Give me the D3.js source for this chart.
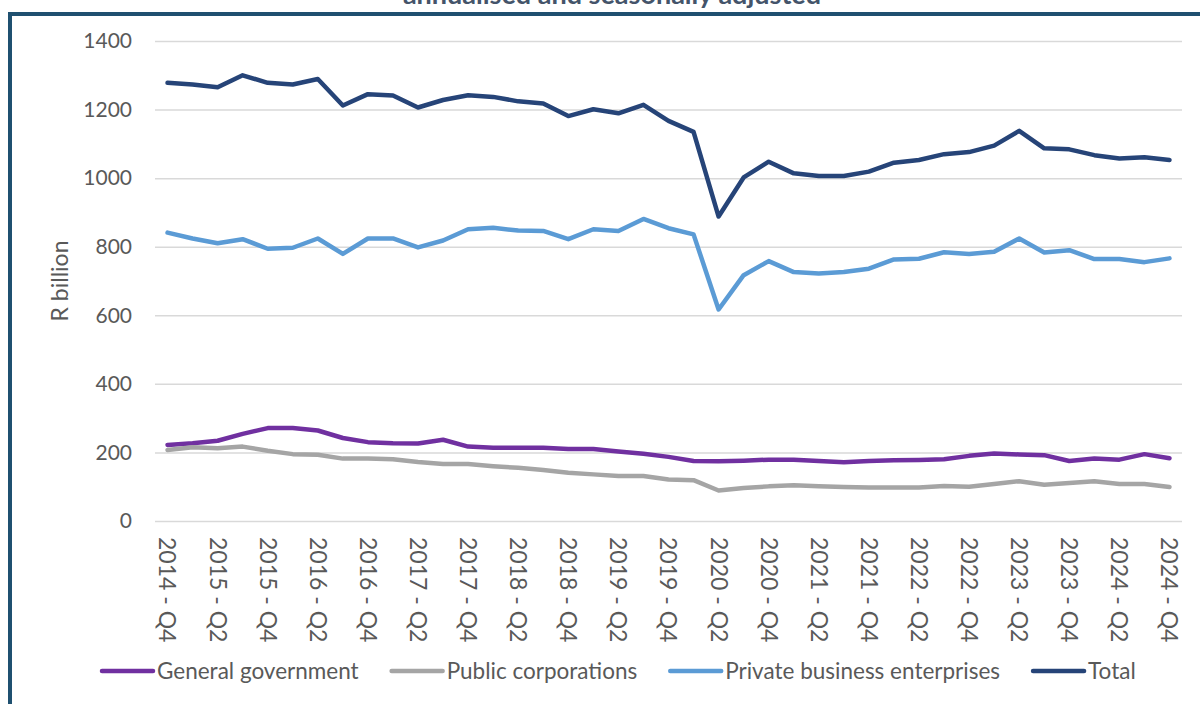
<!DOCTYPE html>
<html>
<head>
<meta charset="utf-8">
<script src="https://cdn.jsdelivr.net/npm/d3@7"></script>
<style>
  body { margin: 0; background: #fff; }
  svg { display: block; font-family: Lato, "Open Sans", sans-serif; }
</style>
</head>
<body>
<svg id="chart" width="1200" height="704"></svg>
<script>
'use strict';
// quarters on the category axis
const quarters = [
  "2014 - Q4", "2015 - Q1", "2015 - Q2", "2015 - Q3", "2015 - Q4",
  "2016 - Q1", "2016 - Q2", "2016 - Q3", "2016 - Q4",
  "2017 - Q1", "2017 - Q2", "2017 - Q3", "2017 - Q4",
  "2018 - Q1", "2018 - Q2", "2018 - Q3", "2018 - Q4",
  "2019 - Q1", "2019 - Q2", "2019 - Q3", "2019 - Q4",
  "2020 - Q1", "2020 - Q2", "2020 - Q3", "2020 - Q4",
  "2021 - Q1", "2021 - Q2", "2021 - Q3", "2021 - Q4",
  "2022 - Q1", "2022 - Q2", "2022 - Q3", "2022 - Q4",
  "2023 - Q1", "2023 - Q2", "2023 - Q3", "2023 - Q4",
  "2024 - Q1", "2024 - Q2", "2024 - Q3", "2024 - Q4"
];
// every second quarter gets a label
const tickLabels = [
  "2014 - Q4", "2015 - Q2", "2015 - Q4", "2016 - Q2", "2016 - Q4", "2017 - Q2", "2017 - Q4",
  "2018 - Q2", "2018 - Q4", "2019 - Q2", "2019 - Q4", "2020 - Q2", "2020 - Q4", "2021 - Q2",
  "2021 - Q4", "2022 - Q2", "2022 - Q4", "2023 - Q2", "2023 - Q4", "2024 - Q2", "2024 - Q4"
];
const yTicks = [0, 200, 400, 600, 800, 1000, 1200, 1400];

// R billion
const generalGovernment = [222, 227, 234, 254, 271, 271, 264, 242, 230, 227, 226, 237, 217, 214, 214, 214, 210, 210, 203, 196,
  187, 175, 174, 176, 179, 179, 175, 171, 175, 177, 178, 180, 190, 197, 194, 192, 175, 182, 179, 195, 183];
const publicCorporations = [207, 215, 212, 217, 205, 195, 193, 182, 182, 180, 172, 166, 166, 160, 155, 149, 141, 136, 131, 131,
  121, 119, 89, 96, 101, 104, 101, 99, 98, 98, 98, 102, 100, 108, 116, 106, 111, 116, 108, 108, 99];
const privateBusiness = [841, 824, 810, 822, 794, 797, 824, 779, 824, 824, 798, 818, 851, 855, 847, 846, 822, 851, 846, 881,
  854, 836, 617, 717, 758, 726, 722, 726, 736, 763, 765, 784, 779, 785, 824, 783, 790, 764, 764, 755, 766];
const total = [1278, 1273, 1265, 1300, 1278, 1273, 1289, 1212, 1245, 1241, 1206, 1228, 1242, 1237, 1224, 1218, 1181, 1201, 1189, 1214,
  1167, 1135, 888, 1002, 1048, 1014, 1006, 1006, 1019, 1045, 1053, 1070, 1076, 1095, 1138, 1087, 1084, 1067, 1057, 1061, 1053];

const seriesNames = ["General government", "Public corporations", "Private business enterprises", "Total"];
const seriesColors = ["#7030A0", "#A5A5A5", "#5B9BD5", "#264478"];
const seriesValues = [generalGovernment, publicCorporations, privateBusiness, total];

const textColor = "#595959";
const margin = {top: 41, right: 18, bottom: 183, left: 155},
      width = 1200 - margin.left - margin.right,
      height = 704 - margin.top - margin.bottom;

const svg = d3.select("#chart");

// title, only its lower part shows above the frame
svg.append("text")
    .attr("x", 612)
    .attr("y", 4)
    .attr("text-anchor", "middle")
    .attr("fill", "#44546A")
    .style("font-size", "27px")
    .style("font-weight", "bold")
    .text("annualised and seasonally adjusted");

// frame
svg.append("rect")
    .attr("x", 10)
    .attr("y", 14)
    .attr("width", 1220)
    .attr("height", 720)
    .attr("fill", "none")
    .attr("stroke", "#1F5070")
    .attr("stroke-width", 4);

const g = svg.append("g")
    .attr("transform", "translate(" + margin.left + "," + margin.top + ")");

const x = d3.scaleBand()
    .domain(quarters)
    .range([0, width]);

const y = d3.scaleLinear()
    .domain([0, 1400])
    .range([height, 0]);

// gridlines
g.append("g")
    .call(d3.axisLeft(y).tickValues(yTicks).tickSize(-width).tickFormat(""))
    .call(a => a.select(".domain").remove())
    .call(a => a.selectAll("line").attr("stroke", "#D9D9D9").attr("stroke-width", 1.5));

// y axis labels
g.append("g")
    .call(d3.axisLeft(y).tickValues(yTicks).tickSize(0).tickPadding(23).tickFormat(d3.format("d")))
    .call(a => a.select(".domain").remove())
    .call(a => a.selectAll("text")
        .attr("fill", textColor)
        .style("font-size", "21px")
        .style("font-family", "Lato, sans-serif"));

// x axis labels
g.append("g")
    .attr("transform", "translate(0," + height + ")")
    .call(d3.axisBottom(x).tickValues(tickLabels).tickSize(0))
    .call(a => a.select(".domain").remove())
    .call(a => a.selectAll("text")
        .attr("fill", textColor)
        .attr("transform", "rotate(90)")
        .attr("x", 16)
        .attr("y", 0)
        .attr("dy", "0.35em")
        .style("text-anchor", "start")
        .style("font-size", "23px")
        .style("font-family", "Lato, sans-serif"));

// y axis title
svg.append("text")
    .attr("transform", "translate(60," + (margin.top + height / 2) + ") rotate(-90)")
    .attr("text-anchor", "middle")
    .attr("dy", "0.35em")
    .attr("fill", textColor)
    .style("font-size", "23px")
    .text("R billion");

const line = d3.line()
    .x((d, i) => x(quarters[i]) + x.bandwidth() / 2)
    .y(d => y(d));

g.selectAll(".series")
    .data(seriesValues)
  .enter().append("path")
    .attr("class", "series")
    .attr("d", line)
    .attr("fill", "none")
    .attr("stroke", (d, i) => seriesColors[i])
    .attr("stroke-width", 4.5)
    .attr("stroke-linejoin", "round")
    .attr("stroke-linecap", "round");

// legend
const legend = svg.append("g").attr("transform", "translate(100,671)");
let lx = 0;
seriesNames.forEach(function(name, i) {
  legend.append("line")
      .attr("x1", lx + 2).attr("x2", lx + 53)
      .attr("y1", 0).attr("y2", 0)
      .attr("stroke", seriesColors[i])
      .attr("stroke-width", 4.5)
      .attr("stroke-linecap", "round");
  const t = legend.append("text")
      .attr("x", lx + 57)
      .attr("dy", "0.35em")
      .attr("fill", textColor)
      .style("font-size", "22.5px")
      .text(name);
  lx += 57 + t.node().getComputedTextLength() + 31;
});
</script>
</body>
</html>
